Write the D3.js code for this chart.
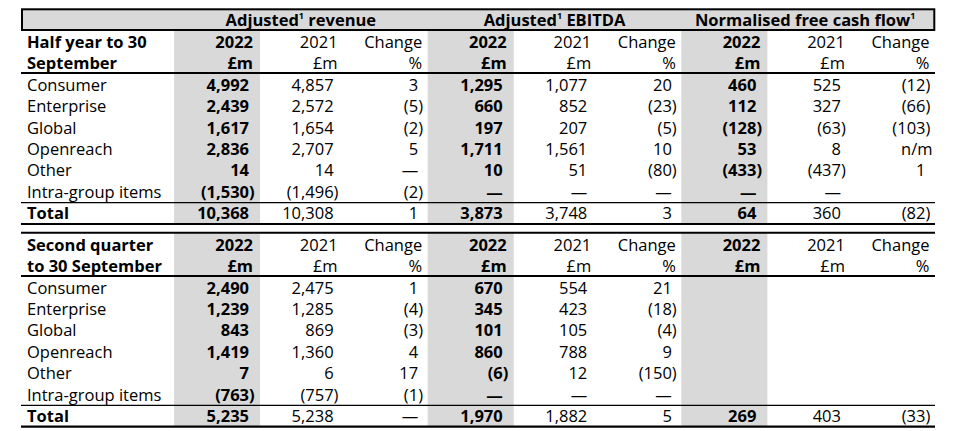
<!DOCTYPE html>
<html><head><meta charset="utf-8">
<script src="https://cdn.jsdelivr.net/npm/d3@7"></script>
<style>
body{margin:0;background:#fff}
text{font-family:"Open Sans",sans-serif;fill:#000;font-size:16.5px}
</style>
</head><body>
<svg id="c" width="959" height="431"></svg>
<script>
// ---------- data ----------
const groupTitles = ["Adjusted", "Adjusted", "Normalised free cash flow"];
const groupSuffix = [" revenue", " EBITDA", ""];
const colYears = ["2022", "2021", "Change", "2022", "2021", "Change", "2022", "2021", "Change"];
const colUnits = ["£m", "£m", "%", "£m", "£m", "%", "£m", "£m", "%"];
const segments = ["Consumer", "Enterprise", "Global", "Openreach", "Other", "Intra-group items", "Total"];
const sectionTitles = [["Half year to 30", "September"], ["Second quarter", "to 30 September"]];

// Half year (null = dash, "" = blank)
const h1Rev2022 = [4992, 2439, 1617, 2836, 14, -1530, 10368];
const h1Rev2021 = [4857, 2572, 1654, 2707, 14, -1496, 10308];
const h1RevChg  = [3, -5, -2, 5, null, -2, 1];
const h1Ebd2022 = [1295, 660, 197, 1711, 10, null, 3873];
const h1Ebd2021 = [1077, 852, 207, 1561, 51, null, 3748];
const h1EbdChg  = [20, -23, -5, 10, -80, null, 3];
const h1Fcf2022 = [460, 112, -128, 53, -433, null, 64];
const h1Fcf2021 = [525, 327, -63, 8, -437, null, 360];
const h1FcfChg  = [-12, -66, -103, "n/m", 1, "", -82];

// Second quarter
const q2Rev2022 = [2490, 1239, 843, 1419, 7, -763, 5235];
const q2Rev2021 = [2475, 1285, 869, 1360, 6, -757, 5238];
const q2RevChg  = [1, -4, -3, 4, 17, -1, null];
const q2Ebd2022 = [670, 345, 101, 860, -6, null, 1970];
const q2Ebd2021 = [554, 423, 105, 788, 12, null, 1882];
const q2EbdChg  = [21, -18, -4, 9, -150, null, 5];
const q2Fcf2022 = ["", "", "", "", "", "", 269];
const q2Fcf2021 = ["", "", "", "", "", "", 403];
const q2FcfChg  = ["", "", "", "", "", "", -33];

const sections = [
  {titles: sectionTitles[0], cols: [h1Rev2022, h1Rev2021, h1RevChg, h1Ebd2022, h1Ebd2021, h1EbdChg, h1Fcf2022, h1Fcf2021, h1FcfChg],
   hdr: [41.7, 62.8], rows: [84.5, 213.3], top: 31, lineHdr: 73, lineTot: 202.6, lineBot: 224},
  {titles: sectionTitles[1], cols: [q2Rev2022, q2Rev2021, q2RevChg, q2Ebd2022, q2Ebd2021, q2EbdChg, q2Fcf2022, q2Fcf2021, q2FcfChg],
   hdr: [244.8, 265.8], rows: [287.5, 415.8], top: 232.7, lineHdr: 276, lineTot: 405.3, lineBot: 426.7}
];

// ---------- drawing ----------
const svg = d3.select("#c");
const left = 21, right = 935;
const x = d3.scaleBand().domain(d3.range(9)).range([174, 935]);
const colRight = i => x(i) + x.bandwidth();
const grp = d3.scaleBand().domain(d3.range(3)).range([174, 935]);
const fmtN = d3.format(",");
const base = 6.1; // centre -> baseline

// header box
svg.append("rect").attr("x", 22).attr("y", 9.3).attr("width", 912.3).attr("height", 20.7)
  .attr("fill", "#d9d9d9").attr("stroke", "#000").attr("stroke-width", 2);
groupTitles.forEach((t, g) => {
  const tx = svg.append("text").attr("x", grp(g) + grp.bandwidth() / 2 + (g === 2 ? -3 : 0)).attr("y", 20 + base)
    .attr("text-anchor", "middle").attr("font-weight", "bold");
  tx.append("tspan").text(t);
  tx.append("tspan").text("1").attr("font-size", "9px").attr("dy", -7);
  tx.append("tspan").text(groupSuffix[g]).attr("dy", 7);
});

sections.forEach(s => {
  const y = d3.scaleLinear().domain([0, 6]).range(s.rows);
  // shaded 2022 columns
  [0, 3, 6].forEach(c => {
    svg.append("rect").attr("x", x(c)).attr("width", x.bandwidth() + 1.5)
      .attr("y", s.top).attr("height", s.lineBot - s.top).attr("fill", "#d9d9d9");
  });
  // lines
  if (s.top > 100) svg.append("line").attr("x1", left).attr("x2", right).attr("y1", s.top).attr("y2", s.top)
    .attr("stroke", "#000").attr("stroke-width", 2);
  svg.append("line").attr("x1", left).attr("x2", right).attr("y1", s.lineHdr).attr("y2", s.lineHdr)
    .attr("stroke", "#000").attr("stroke-width", 2);
  svg.append("line").attr("x1", left).attr("x2", right).attr("y1", s.lineTot).attr("y2", s.lineTot)
    .attr("stroke", "#000").attr("stroke-width", 1.2);
  svg.append("line").attr("x1", left).attr("x2", right).attr("y1", s.lineBot).attr("y2", s.lineBot)
    .attr("stroke", "#000").attr("stroke-width", 2.2);

  // section title (two lines in one text)
  const st = svg.append("text").attr("x", 27).attr("y", s.hdr[0] + base).attr("font-weight", "bold");
  st.append("tspan").attr("x", 27).text(s.titles[0]);
  st.append("tspan").attr("x", 27).attr("dy", s.hdr[1] - s.hdr[0]).text(s.titles[1]);
  // column headers (two lines in one text)
  colYears.forEach((t, c) => {
    const bold = c % 3 === 0 ? "bold" : "normal";
    const hx = colRight(c) - 5.5;
    const ht = svg.append("text").attr("x", hx).attr("y", s.hdr[0] + base)
      .attr("text-anchor", "end").attr("font-weight", bold);
    ht.append("tspan").attr("x", hx).text(t);
    ht.append("tspan").attr("x", hx).attr("dy", s.hdr[1] - s.hdr[0]).text(colUnits[c]);
  });
  // rows
  segments.forEach((seg, r) => {
    const isTot = r === 6;
    svg.append("text").attr("x", 27).attr("y", y(r) + base)
      .attr("font-weight", isTot ? "bold" : "normal").text(seg);
    s.cols.forEach((arr, c) => {
      const v = arr[r];
      const bold = (c % 3 === 0) ? "bold" : "normal";
      const xr = colRight(c) - 9.5;
      const yy = y(r) + base;
      if (v === "") return;
      if (v === null) {
        svg.append("text").attr("x", xr).attr("y", yy).attr("text-anchor", "end").attr("font-weight", bold).text("—");
      } else if (typeof v === "string") {
        svg.append("text").attr("x", colRight(c) - 2.5).attr("y", yy).attr("text-anchor", "end").attr("font-weight", bold).text(v);
      } else if (v < 0) {
        svg.append("text").attr("x", xr).attr("y", yy).attr("text-anchor", "end").attr("font-weight", bold).text("(" + fmtN(-v));
        svg.append("text").attr("x", xr).attr("y", yy).attr("text-anchor", "start").attr("font-weight", bold).text(")");
      } else {
        svg.append("text").attr("x", xr).attr("y", yy).attr("text-anchor", "end").attr("font-weight", bold).text(fmtN(v));
      }
    });
  });
});
</script>
</body></html>
